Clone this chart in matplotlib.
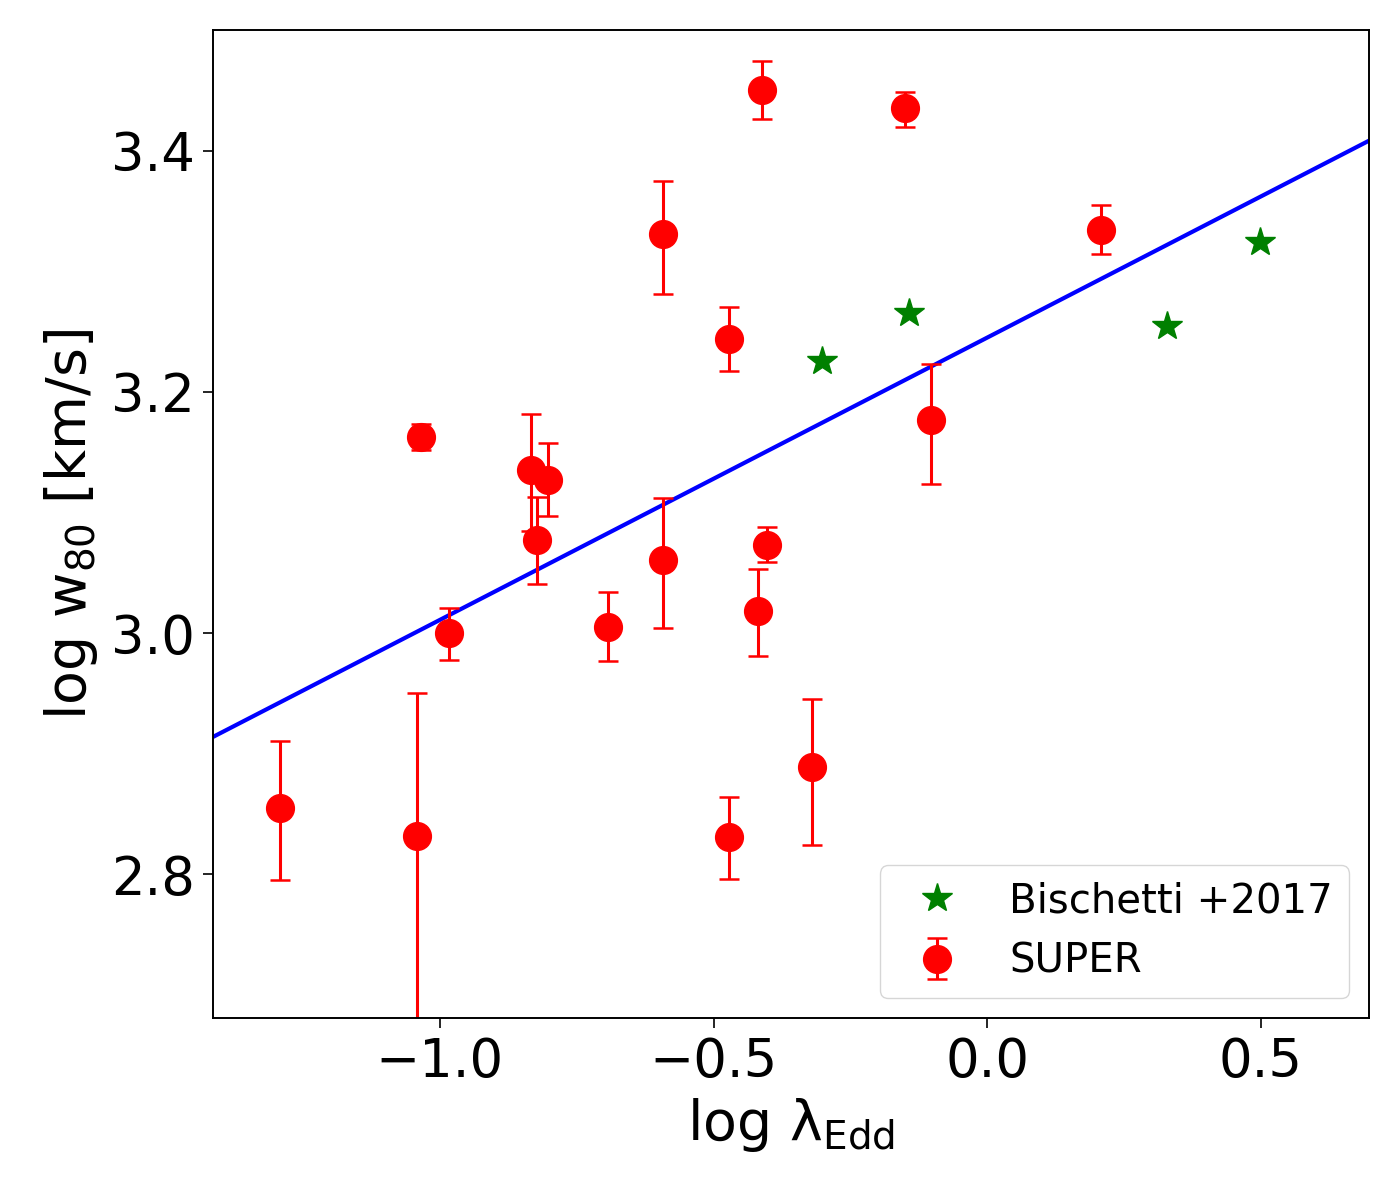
import matplotlib.pyplot as plt
import numpy as np

# SUPER sample
super_x = [-1.293, -1.042, -1.035, -0.984, -0.834, -0.823, -0.803, -0.693, -0.592, -0.592,
           -0.472, -0.472, -0.411, -0.419, -0.402, -0.320, -0.150, -0.102, 0.208]
super_y = [2.855, 2.832, 3.163, 3.000, 3.135, 3.077, 3.127, 3.005, 3.331, 3.061,
           3.244, 2.831, 3.450, 3.018, 3.073, 2.889, 3.435, 3.177, 3.334]
super_err_lo = [0.060, 0.200, 0.011, 0.022, 0.050, 0.036, 0.030, 0.028, 0.050, 0.057,
                0.027, 0.035, 0.024, 0.037, 0.014, 0.065, 0.015, 0.053, 0.020]
super_err_hi = [0.056, 0.118, 0.010, 0.021, 0.047, 0.036, 0.031, 0.029, 0.044, 0.051,
                0.026, 0.033, 0.024, 0.035, 0.015, 0.056, 0.014, 0.046, 0.021]

# Bischetti +2017
bis_x = [-0.302, -0.143, 0.329, 0.499]
bis_y = [3.226, 3.265, 3.255, 3.324]

# linear fit
slope = 0.234
intercept = 3.245

fig = plt.figure(figsize=(14, 12), dpi=100)
ax = fig.add_axes([0.152, 0.1517, 0.826, 0.8233])

xx = np.array([-1.5, 0.8])
ax.plot(xx, slope * xx + intercept, color='blue', lw=3.0, zorder=1)
ax.plot(bis_x, bis_y, '*', color='green', markersize=22, ls='none',
        label='Bischetti +2017', zorder=3)
ax.errorbar(super_x, super_y, yerr=[super_err_lo, super_err_hi], fmt='o', color='red',
            markersize=20, capsize=7, elinewidth=2.2, capthick=1.8, label='SUPER', zorder=2)

ax.set_xlim(-1.415, 0.698)
ax.set_ylim(2.681, 3.50)
ax.set_xticks([-1.0, -0.5, 0.0, 0.5])
ax.set_yticks([2.8, 3.0, 3.2, 3.4])
ax.tick_params(labelsize=38, length=7, width=1.2, pad=6)
ax.set_xlabel(r'log $\mathregular{\lambda_{Edd}}$', fontsize=40, labelpad=6)
ax.set_ylabel(r'log $\mathregular{w_{80}}$ [km/s]', fontsize=40, labelpad=8)
for s in ax.spines.values():
    s.set_linewidth(1.4)

ax.legend(loc='lower right', fontsize=29)

plt.savefig('out.png')
